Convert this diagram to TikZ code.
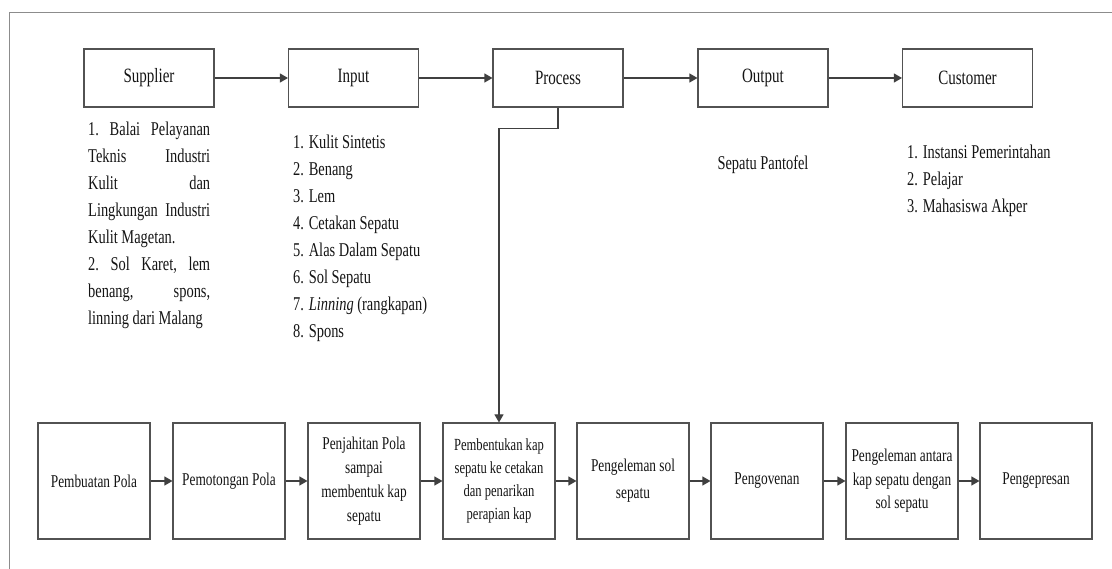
\documentclass[tikz,border=0pt]{standalone}
\usepackage{fontspec}
\setmainfont{Liberation Serif}[FakeStretch=0.74]
\usetikzlibrary{arrows.meta}
\definecolor{boxgray}{gray}{0.32}
\definecolor{linegray}{gray}{0.25}
\definecolor{framegray}{gray}{0.55}
\definecolor{inkgray}{gray}{0.08}
\newcommand{\jline}[1]{\makebox[122pt][l]{#1}}
\begin{document}
\begin{tikzpicture}[x=1pt,y=-1pt,
  every node/.style={text=inkgray},
  topbox/.style={draw=boxgray,line width=1.1pt,minimum width=130pt,minimum height=58pt,
    inner sep=0pt,font=\fontsize{20.3}{26}\selectfont},
  botbox/.style={draw=boxgray,line width=1.1pt,minimum width=112pt,minimum height=116pt,
    inner sep=0pt,align=center,font=\fontsize{18}{24}\selectfont},
  conn/.style={draw=linegray,line width=1.1pt,-{Triangle[length=8pt,width=9pt]}},
  listtext/.style={inner sep=0pt,anchor=north west,align=left,
    font=\fontsize{19.5}{27}\selectfont}]
\useasboundingbox (0,0) rectangle (1112,569);
\clip (0,0) rectangle (1112,569);

% outer frame (runs past the page on the right and bottom)
\draw[framegray,line width=1.3pt] (9.7,12.7) rectangle (1140,600);

% SIPOC row
\node[topbox] (sup) at (149,78)   {Supplier};
\node[topbox] (inp) at (353.5,78) {Input};
\node[topbox] (pro) at (558,78)   {Process};
\node[topbox] (out) at (763,78)   {Output};
\node[topbox] (cus) at (967.5,78) {Customer};

\draw[conn] (sup) -- (inp);
\draw[conn] (inp) -- (pro);
\draw[conn] (pro) -- (out);
\draw[conn] (out) -- (cus);

% descriptions under the SIPOC boxes
\node[listtext,text width=122pt] (suplist) at (88,121) {%
  \spaceskip=0pt\xspaceskip=0pt\rule{0pt}{14pt}%
  \jline{1.\hfill Balai\hfill Pelayanan}\\
  \jline{Teknis\hfill Industri}\\
  \jline{Kulit\hfill dan}\\
  \jline{Lingkungan\hfill Industri}\\
  Kulit Magetan.\\
  \jline{2.\hfill Sol\hfill Karet,\hfill lem}\\
  \jline{benang,\hfill spons,}\\
  linning dari Malang};

\node[listtext] (inplist) at (293,134.3) {\rule{0pt}{14pt}%
  1. Kulit Sintetis\\
  2. Benang\\
  3. Lem\\
  4. Cetakan Sepatu\\
  5. Alas Dalam Sepatu\\
  6. Sol Sepatu\\
  7. \textit{Linning} (rangkapan)\\
  8. Spons};

\node[anchor=base,inner sep=0pt,font=\fontsize{19.5}{27}\selectfont] (outtext) at (763,170) {Sepatu Pantofel};

\node[listtext] (cuslist) at (907,144) {\rule{0pt}{14pt}%
  1. Instansi Pemerintahan\\
  2. Pelajar\\
  3. Mahasiswa Akper};

% production steps
\node[botbox] (b1) at (94,481)   {Pembuatan Pola};
\node[botbox] (b2) at (229,481)  {Pemotongan Pola};
\node[botbox] (b3) at (364,481)  {Penjahitan Pola\\sampai\\membentuk kap\\sepatu};
\node[botbox,font=\fontsize{17}{23}\selectfont] (b4) at (499,481)
  {Pembentukan kap\\sepatu ke cetakan\\dan penarikan\\perapian kap};
\node[botbox,font=\fontsize{18}{27}\selectfont] (b5) at (633,481) {Pengeleman sol\\sepatu};
\node[botbox] (b6) at (767,481)  {Pengovenan};
\node[botbox,font=\fontsize{18}{23.5}\selectfont] (b7) at (902,481)
  {Pengeleman antara\\kap sepatu dengan\\sol sepatu};
\node[botbox] (b8) at (1036,481) {Pengepresan};

\draw[conn] (b1) -- (b2);
\draw[conn] (b2) -- (b3);
\draw[conn] (b3) -- (b4);
\draw[conn] (b4) -- (b5);
\draw[conn] (b5) -- (b6);
\draw[conn] (b6) -- (b7);
\draw[conn] (b7) -- (b8);

% process detail link
\draw[conn] (pro.south) -- ++(0,21) -| (b4.north);
\end{tikzpicture}
\end{document}
